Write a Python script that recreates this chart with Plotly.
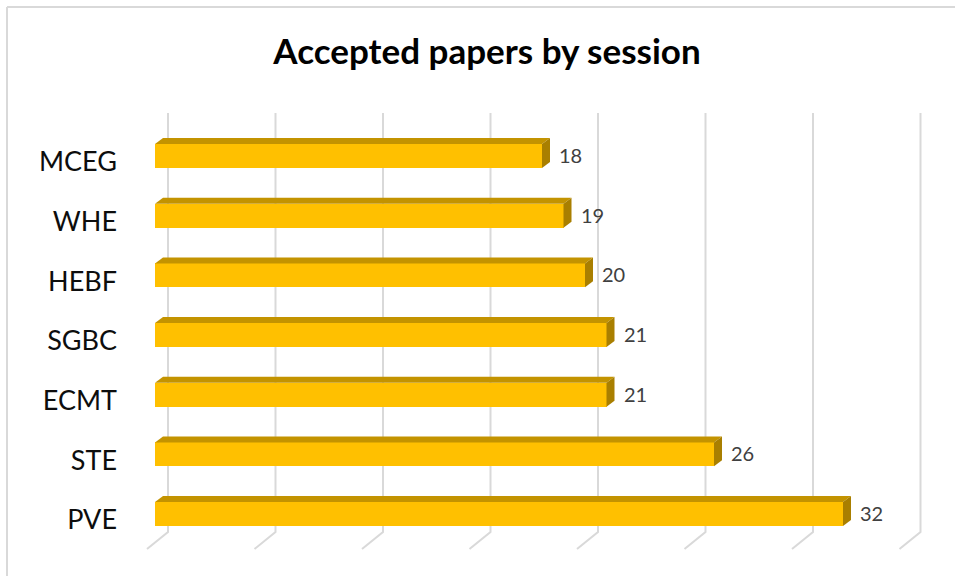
import plotly.graph_objects as go

# ---- data ----
categories = ["MCEG", "WHE", "HEBF", "SGBC", "ECMT", "STE", "PVE"]
values = [18, 19, 20, 21, 21, 26, 32]
grid_values = [0, 5, 10, 15, 20, 25, 30, 35]
title_text = "Accepted papers by session"

# ---- styling / geometry (pixels -> units) ----
W, H = 955, 576
L, R, T, B = 140, 10, 100, 10
PX_X = 21.5            # px per value unit
PX_Y = 59.67           # px per category step
x0_px = 155            # pixel position of value 0 on the front plane
plot_w = W - L - R
plot_h = H - T - B
xmin = -(x0_px - L) / PX_X
xmax = xmin + plot_w / PX_X
ymax = 6 + (162 - T) / PX_Y
ymin = ymax - plot_h / PX_Y

dx = 8 / PX_X          # bar depth, x
dy = 6 / PX_Y          # bar depth, y
face_lo, face_hi = -0.10, 0.30

FRONT = "#FFC000"
TOP = "#C39300"
SIDE = "#A97F00"
GRID = "#D9D9D9"

n = len(categories)
pos = [n - 1 - i for i in range(n)]

fig = go.Figure()

# back wall gridlines with floor slants (drawn below the data)
gx_off = 13 / PX_X
g_top = (520 - 113) / PX_Y
g_bot = (520 - 532) / PX_Y
sl_dx = -21 / PX_X
sl_dy = -17 / PX_Y
for g in grid_values:
    xb = g + gx_off
    fig.add_shape(type="path", xref="x", yref="y", layer="below",
                  path=f"M {xb},{g_top} L {xb},{g_bot} L {xb + sl_dx},{g_bot + sl_dy}",
                  line=dict(color=GRID, width=2))

# front faces
fig.add_trace(go.Bar(y=pos, x=values, orientation="h", base=0, width=face_hi - face_lo,
                     offset=face_lo, marker=dict(color=FRONT, line=dict(width=0)),
                     showlegend=False))

# top and side faces
for p, v in zip(pos, values):
    fig.add_trace(go.Scatter(
        x=[0, v, v + dx, dx, 0], y=[p + face_hi, p + face_hi, p + face_hi + dy, p + face_hi + dy, p + face_hi],
        mode="lines", fill="toself", fillcolor=TOP, line=dict(width=0, color=TOP),
        hoverinfo="skip", showlegend=False))
    fig.add_trace(go.Scatter(
        x=[v, v + dx, v + dx, v, v], y=[p + face_hi, p + face_hi + dy, p + face_lo + dy, p + face_lo, p + face_hi],
        mode="lines", fill="toself", fillcolor=SIDE, line=dict(width=0, color=SIDE),
        hoverinfo="skip", showlegend=False))
    fig.add_annotation(x=v + dx, y=p + 0.12, text=str(v), showarrow=False,
                       xanchor="left", yanchor="middle", xshift=7,
                       font=dict(family="Lato, sans-serif", size=20, color="#404040"))

# outer chart border (light gray top & left)
def px_to_paper_x(px):
    return (px - L) / plot_w

def px_to_paper_y(py):
    return (H - B - py) / plot_h

fig.add_shape(type="line", xref="paper", yref="paper",
              x0=px_to_paper_x(7), x1=px_to_paper_x(W + 5), y0=px_to_paper_y(7), y1=px_to_paper_y(7),
              line=dict(color=GRID, width=2))
fig.add_shape(type="line", xref="paper", yref="paper",
              x0=px_to_paper_x(7), x1=px_to_paper_x(7), y0=px_to_paper_y(7), y1=px_to_paper_y(H + 5),
              line=dict(color=GRID, width=2))

fig.update_layout(
    width=W, height=H,
    margin=dict(l=L, r=R, t=T, b=B),
    paper_bgcolor="white", plot_bgcolor="white",
    title=dict(text="<b>" + title_text + "</b>", x=487 / W, xref="container", xanchor="center",
               y=1 - 52 / H, yref="container", yanchor="middle",
               font=dict(family="Lato, sans-serif", size=35, color="#000000")),
    xaxis=dict(range=[xmin, xmax], showgrid=False, zeroline=False, showticklabels=False,
               showline=False, fixedrange=True),
    yaxis=dict(range=[ymin, ymax], tickmode="array", tickvals=pos, ticktext=categories,
               showgrid=False, zeroline=False, showline=False, ticks="",
               ticklabelstandoff=22,
               tickfont=dict(family="Lato, sans-serif", size=27, color="#0D0D0D")),
    bargap=0,
)

fig.write_html("out.html")
